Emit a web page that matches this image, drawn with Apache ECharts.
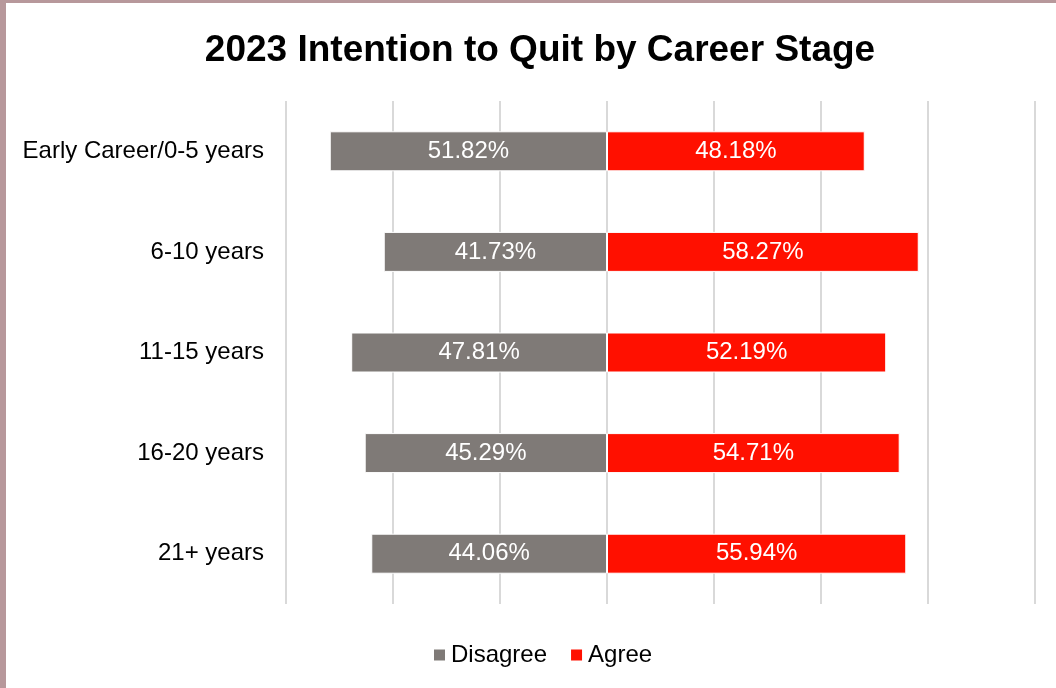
<!DOCTYPE html>
<html>
<head>
<meta charset="utf-8">
<script src="https://cdn.jsdelivr.net/npm/echarts@6/dist/echarts.min.js"></script>
<style>
  html, body { margin: 0; padding: 0; background: #ffffff; }
  #wrap { position: relative; width: 1056px; height: 688px; overflow: hidden; }
  #chart { position: absolute; left: 0; top: 0; width: 1056px; height: 688px; }
  .edge { position: absolute; background: #b7989b; }
  #edgeLeft { left: 0; top: 0; width: 6px; height: 688px; }
  #edgeTop { left: 0; top: 0; width: 1056px; height: 3px; }
</style>
</head>
<body>
<div id="wrap">
  <div id="chart"></div>
  <div class="edge" id="edgeLeft"></div>
  <div class="edge" id="edgeTop"></div>
</div>
<script>
// Career stages, top to bottom
const stages = ['Early Career/0-5 years', '6-10 years', '11-15 years', '16-20 years', '21+ years'];
// Share of respondents (%) by answer
const disagree = [51.82, 41.73, 47.81, 45.29, 44.06];
const agree = [48.18, 58.27, 52.19, 54.71, 55.94];
// Value axis range (percent); disagree runs left of zero
const axisMin = -60;
const axisMax = 80;
const axisStep = 20;

const FONT = 'Liberation Sans, Arial, sans-serif';
const chart = echarts.init(document.getElementById('chart'), null, { renderer: 'canvas' });

const pctLabel = {
  show: true,
  position: 'inside',
  color: '#ffffff',
  fontFamily: FONT,
  fontSize: 24,
  formatter: p => Math.abs(p.value).toFixed(2) + '%'
};

chart.setOption({
  animation: false,
  backgroundColor: '#ffffff',
  title: {
    text: '2023 Intention to Quit by Career Stage',
    left: 535,
    textAlign: 'center',
    top: 27,
    textStyle: { fontFamily: FONT, fontSize: 37, fontWeight: 'bold', color: '#000000' }
  },
  legend: {
    data: ['Disagree', 'Agree'],
    left: 432,
    top: 643,
    padding: 0,
    itemWidth: 13,
    itemHeight: 13,
    itemGap: 22,
    icon: 'rect',
    textStyle: { fontFamily: FONT, fontSize: 24, color: '#000000', padding: [0, 0, 0, 0] }
  },
  grid: { left: 286, right: 21, top: 101, bottom: 84, containLabel: false },
  xAxis: {
    type: 'value',
    min: axisMin,
    max: axisMax,
    interval: axisStep,
    axisLine: { show: false },
    axisTick: { show: false },
    axisLabel: { show: false },
    splitLine: { show: true, lineStyle: { color: '#d9d9d9', width: 2 } }
  },
  yAxis: {
    type: 'category',
    data: stages,
    inverse: true,
    axisLine: { show: false },
    axisTick: { show: false },
    axisLabel: { fontFamily: FONT, fontSize: 24, color: '#000000', margin: 22 }
  },
  series: [
    {
      name: 'Disagree',
      type: 'bar',
      stack: 'answer',
      barWidth: 40,
      data: disagree.map(v => -v),
      itemStyle: { color: '#7f7a77', borderColor: '#ffffff', borderWidth: 1 },
      label: pctLabel
    },
    {
      name: 'Agree',
      type: 'bar',
      stack: 'answer',
      barWidth: 40,
      data: agree,
      itemStyle: { color: '#ff1000', borderColor: '#ffffff', borderWidth: 1 },
      label: pctLabel
    }
  ]
});
</script>
</body>
</html>
